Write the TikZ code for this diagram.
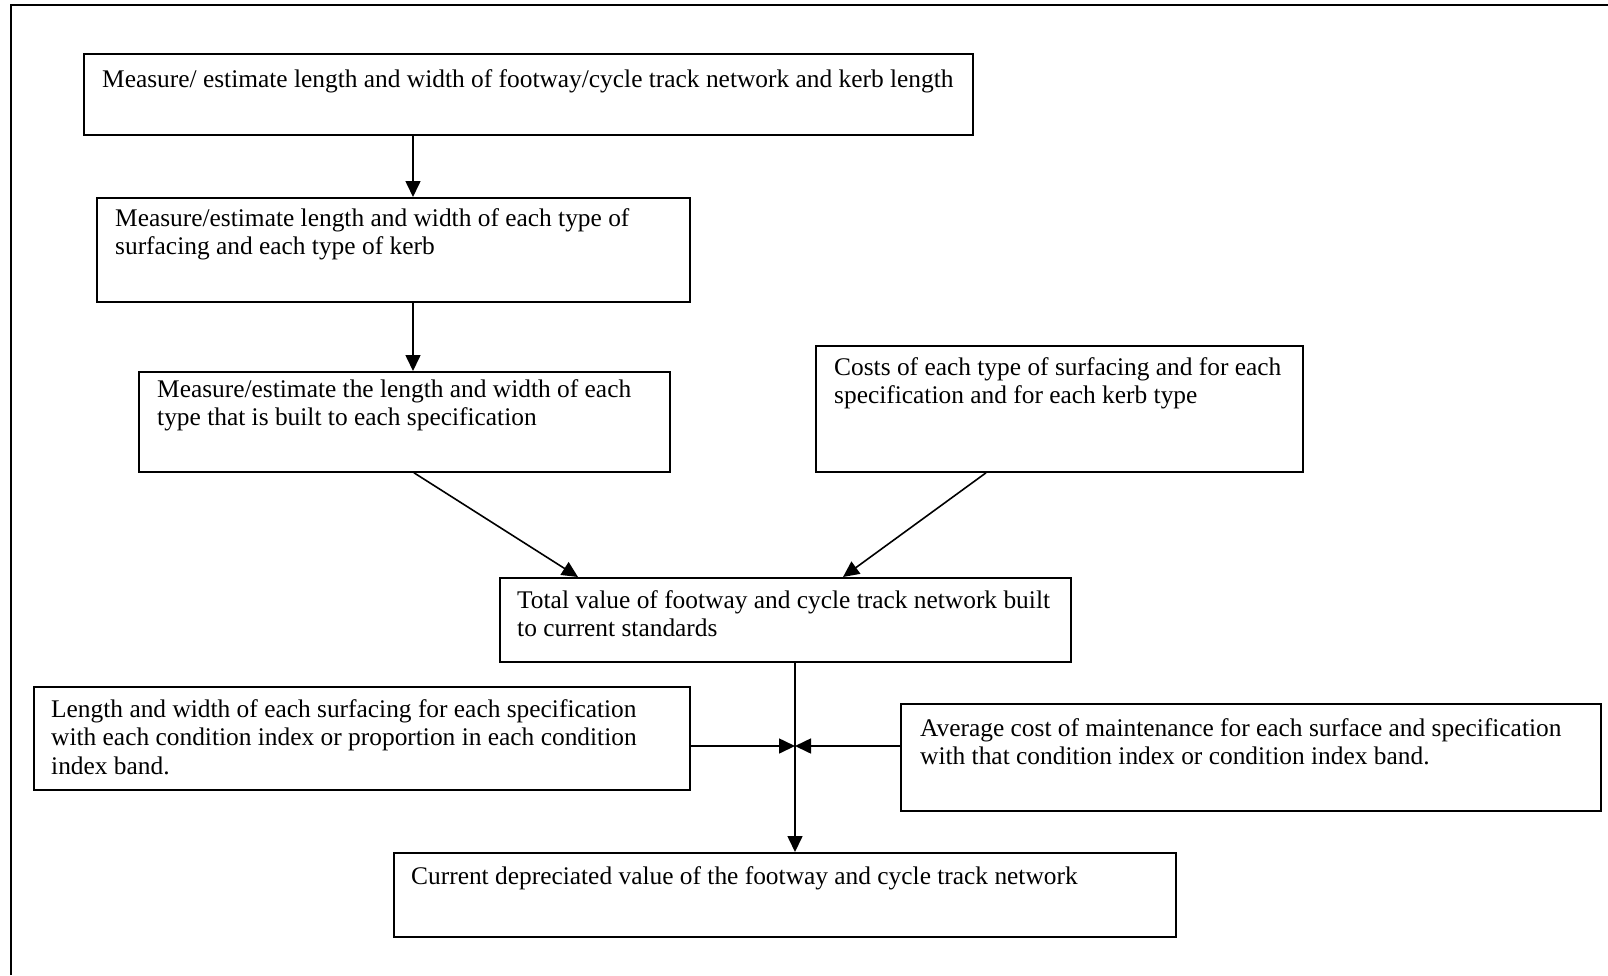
\documentclass[tikz,border=0pt]{standalone}
\usepackage{fontspec}
\setmainfont{Liberation Serif}
\usetikzlibrary{arrows.meta}
\newcommand{\mylines}[1]{\vtop{\baselineskip=28.6pt\lineskiplimit=-10pt\halign{##\hfil\cr #1\crcr}}}
\begin{document}
\begin{tikzpicture}[x=1pt,y=-1pt,
  box/.style={draw, line width=1.8pt, rectangle, inner sep=0pt, anchor=north west},
  txt/.style={inner sep=0pt, anchor=base west, font=\fontsize{25.4}{28.6}\selectfont},
  arr/.style={line width=1.6pt, -{Triangle[length=16pt,width=15pt]}}]
\useasboundingbox (0,0) rectangle (1608,975);
% outer frame (cropped on right and bottom)
\draw[line width=2pt] (10.5,975) -- (10.5,4.5) -- (1608,4.5);

% boxes
\node[box, minimum width=889pt, minimum height=81pt]  (b1) at (83,53) {};
\node[box, minimum width=593pt, minimum height=104pt] (b2) at (96,197) {};
\node[box, minimum width=531pt, minimum height=100pt] (b3) at (138,371) {};
\node[box, minimum width=487pt, minimum height=126pt] (b4) at (815,345) {};
\node[box, minimum width=571pt, minimum height=84pt]  (b5) at (499,577) {};
\node[box, minimum width=656pt, minimum height=103pt] (b6) at (33,686) {};
\node[box, minimum width=700pt, minimum height=107pt] (b7) at (900,703) {};
\node[box, minimum width=782pt, minimum height=84pt]  (b8) at (393,852) {};

% texts
\node[txt] (t1) at (102,87) {\mylines{Measure/ estimate length and width of footway/cycle track network and kerb length}};
\node[txt] (t2) at (115,226) {\mylines{Measure/estimate length and width of each type of\cr surfacing and each type of kerb}};
\node[txt] (t3) at (157,397) {\mylines{Measure/estimate the length and width of each\cr type that is built to each specification}};
\node[txt] (t4) at (834,375) {\mylines{Costs of each type of surfacing and for each\cr specification and for each kerb type}};
\node[txt] (t5) at (517,608) {\mylines{Total value of footway and cycle track network built\cr to current standards}};
\node[txt] (t6) at (51,717) {\mylines{Length and width of each surfacing for each specification\cr with each condition index or proportion in each condition\cr index band.}};
\node[txt] (t7) at (920,736) {\mylines{Average cost of maintenance for each surface and specification\cr with that condition index or condition index band.}};
\node[txt] (t8) at (411,884) {\mylines{Current depreciated value of the footway and cycle track network}};

% junction
\coordinate (j) at (795,746);

% connectors
\draw[arr] ([xshift=330pt]b1.south west) -- ([xshift=317pt]b2.north west);
\draw[arr] ([xshift=317pt]b2.south west) -- ([xshift=275pt]b3.north west);
\draw[arr] ([xshift=276pt]b3.south west) -- ([xshift=79pt]b5.north west);
\draw[arr] ([xshift=171pt]b4.south west) -- ([xshift=344pt]b5.north west);
\draw[arr] ([xshift=296pt]b5.south west) -- ([xshift=402pt]b8.north west);
\draw[arr] (j -| b6.east) -- (j);
\draw[arr] (j -| b7.west) -- (j);
\end{tikzpicture}
\end{document}
